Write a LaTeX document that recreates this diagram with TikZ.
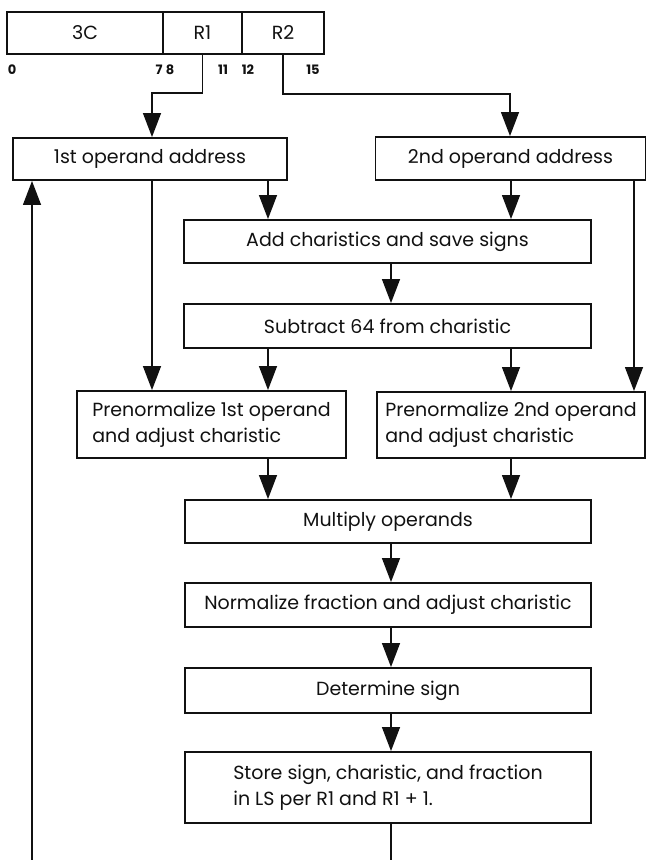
\documentclass[tikz,border=0pt]{standalone}
\usepackage{fontspec}
\setmainfont{Poppins}
\usepackage{tikz}
\usetikzlibrary{arrows.meta}
\definecolor{ink}{HTML}{111111}
\tikzset{
  box/.style={draw=ink, line width=1.9pt, inner sep=0pt, text=ink,
    font=\fontsize{19}{26}\selectfont},
  fmt/.style={box, minimum height=42pt},
  conn/.style={draw=ink, line width=1.3pt},
  arr/.style={conn, -{Triangle[length=24pt, width=18pt]}},
  bit/.style={text=ink, font=\fontsize{13}{13}\selectfont\bfseries}
}

\begin{document}
\begin{tikzpicture}[x=1pt, y=-1pt]
  \useasboundingbox (0,0) rectangle (647,860);

  % instruction format and bit positions
  \node[fmt, minimum width=156pt] (op) at (85,33) {3C};
  \node[fmt, minimum width=79pt] (r1) at (202.5,33) {R1};
  \node[fmt, minimum width=82pt] (r2) at (283,33) {R2};
  \node[bit] (b0) at (12,70) {0};
  \node[bit] (b7) at (159,70) {7};
  \node[bit] (b8) at (170,70) {8};
  \node[bit] (b11) at (223,70) {11};
  \node[bit] (b12) at (248,70) {12};
  \node[bit] (b15) at (313,70) {15};

  % flow boxes
  \node[box, minimum width=274pt, minimum height=42pt] (addr1) at (150,159) {1st operand address};
  \node[box, minimum width=270pt, minimum height=43pt] (addr2) at (510.5,158.5) {2nd operand address};
  \node[box, minimum width=407pt, minimum height=43pt] (addc) at (387.5,241.5) {Add charistics and save signs};
  \node[box, minimum width=407pt, minimum height=44pt] (sub) at (387.5,326) {Subtract 64 from charistic};
  \node[box, minimum width=269pt, minimum height=67pt, align=left] (pre1) at (211.5,424.5)
    {Prenormalize 1st operand\\and adjust charistic};
  \node[box, minimum width=268pt, minimum height=66pt, align=left] (pre2) at (511,425)
    {Prenormalize 2nd operand\\and adjust charistic};
  \node[box, minimum width=406pt, minimum height=43pt] (mult) at (388,521.5) {Multiply operands};
  \node[box, minimum width=406pt, minimum height=44pt] (norm) at (388,605) {Normalize fraction and adjust charistic};
  \node[box, minimum width=406pt, minimum height=45pt] (sign) at (388,690.5) {Determine sign};
  \node[box, minimum width=406pt, minimum height=71pt, align=left] (store) at (388,787.5)
    {Store sign, charistic, and fraction\\in LS per R1 and R1 + 1.};

  % columns the connectors run in
  \coordinate (cA) at (152,0);
  \coordinate (cB) at (268,0);
  \coordinate (cC) at (391,0);
  \coordinate (cD) at (511,0);
  \coordinate (cE) at (634,0);
  \coordinate (k1) at (152,93);
  \coordinate (k2) at (510,94);
  \coordinate (loopR) at (391,861);
  \coordinate (loopL) at (32,861);

  % register fields to operand addresses
  \draw[arr] (r1.south) |- (k1) -- (k1 |- addr1.north);
  \draw[arr] (r2.south) |- (k2) -- (k2 |- addr2.north);

  \draw[arr] (cB |- addr1.south) -- (cB |- addc.north);
  \draw[arr] (cD |- addr2.south) -- (cD |- addc.north);
  \draw[arr] (cA |- addr1.south) -- (cA |- pre1.north);
  \draw[arr] (cE |- addr2.south) -- (cE |- pre2.north);
  \draw[arr] (cC |- addc.south) -- (cC |- sub.north);
  \draw[arr] (cB |- sub.south) -- (cB |- pre1.north);
  \draw[arr] (cD |- sub.south) -- (cD |- pre2.north);
  \draw[arr] (cB |- pre1.south) -- (cB |- mult.north);
  \draw[arr] (cD |- pre2.south) -- (cD |- mult.north);
  \draw[arr] (cC |- mult.south) -- (cC |- norm.north);
  \draw[arr] (cC |- norm.south) -- (cC |- sign.north);
  \draw[arr] (cC |- sign.south) -- (cC |- store.north);

  % loop back
  \draw[conn] (cC |- store.south) -- (loopR);
  \draw[arr] (loopL) -- (loopL |- addr1.south);
\end{tikzpicture}
\end{document}
